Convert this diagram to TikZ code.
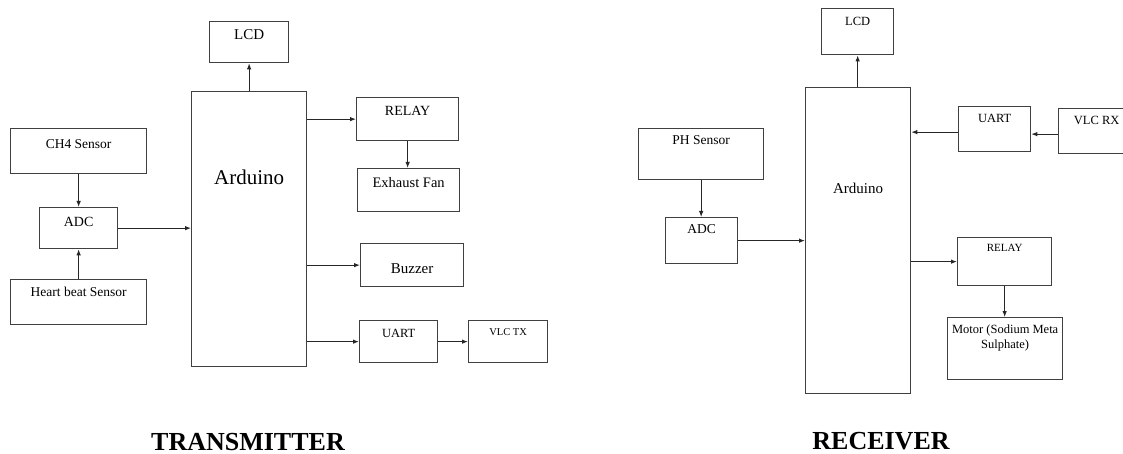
\documentclass[tikz,border=0pt]{standalone}
\usepackage{fontspec}
\setmainfont{Liberation Serif}
\usetikzlibrary{arrows.meta}
\colorlet{boxgray}{black!75}
\colorlet{wiregray}{black!85}

\begin{document}
\begin{tikzpicture}[x=1pt,y=-1pt,
  blk/.style={draw=boxgray, line width=1.3pt, rectangle, inner sep=0pt, anchor=north west},
  wire/.style={draw=wiregray, line width=1pt, -{Latex[length=6pt,width=4.5pt]}},
  fs/.style={font=\fontsize{#1}{1.2\dimexpr#1pt\relax}\selectfont},
  title/.style={font=\fontsize{26}{30}\selectfont\bfseries, anchor=base}]
\useasboundingbox (0,0) rectangle (1123,454);
% transmitter
\node[blk, fs=15, minimum width=79, text height=18, text depth=23] (lcd) at (209,21) {LCD};
\node[blk, fs=21, minimum width=115, text height=93, text depth=182] (ard) at (191,91) {Arduino};
\node[blk, fs=13.5, minimum width=136, text height=20, text depth=25] (ch4) at (10,128) {CH4 Sensor};
\node[blk, fs=14, minimum width=78, text height=19, text depth=22] (adc) at (39,207) {ADC};
\node[blk, fs=13.5, minimum width=136, text height=17, text depth=28] (hb) at (10,279) {Heart beat Sensor};
\node[blk, fs=14, minimum width=102, text height=18, text depth=25] (relay) at (356,97) {RELAY};
\node[blk, fs=14.5, minimum width=102, text height=19, text depth=24] (fan) at (357,168) {Exhaust Fan};
\node[blk, fs=15, minimum width=103, text height=30, text depth=13] (buzz) at (360,243) {Buzzer};
\node[blk, fs=12.5, minimum width=78, text height=17, text depth=25] (uart) at (359,320) {UART};
\node[blk, fs=10.5, minimum width=79, text height=15, text depth=27] (vlctx) at (468,320) {VLC TX};
\draw[wire] (ard.north) -- (ard.north |- lcd.south);
\draw[wire] (ch4.south) -- (adc.north);
\draw[wire] (hb.north) -- (adc.south);
\draw[wire] (adc.east) -- (adc.east -| ard.west);
\draw[wire] (relay.west -| ard.east) -- (relay.west);
\draw[wire] (relay.south) -- (relay.south |- fan.north);
\draw[wire] (buzz.west -| ard.east) -- (buzz.west);
\draw[wire] (uart.west -| ard.east) -- (uart.west);
\draw[wire] (uart.east) -- (vlctx.west);
\node[title] (tx) at (248,450) {TRANSMITTER};
% receiver
\node[blk, fs=12.5, minimum width=72, text height=17, text depth=29] (lcdr) at (821,8) {LCD};
\node[blk, fs=15, minimum width=105, text height=106, text depth=200] (ardr) at (805,87) {Arduino};
\node[blk, fs=12.5, minimum width=72, text height=16, text depth=29] (uartr) at (958,106) {UART};
\node[blk, fs=12.5, minimum width=76, text height=16, text depth=29] (vlcrx) at (1058,108) {VLC RX};
\node[blk, fs=13.5, minimum width=125, text height=16, text depth=35] (ph) at (638,128) {PH Sensor};
\node[blk, fs=13.5, minimum width=72, text height=16, text depth=30] (adcr) at (665,217) {ADC};
\node[blk, fs=11, minimum width=94, text height=14, text depth=34] (relayr) at (957,237) {RELAY};
\node[blk, fs=12.5, minimum width=115, text height=16, text depth=46] (motor) at (947,317)
  {\begin{tabular}[t]{@{}c@{}}Motor (Sodium Meta\\Sulphate)\end{tabular}};
\draw[wire] (lcdr.south |- ardr.north) -- (lcdr.south);
\draw[wire] ([yshift=-3]vlcrx.west) -- ([yshift=-3]vlcrx.west -| uartr.east);
\draw[wire] ([yshift=-3]uartr.west) -- ([yshift=-3]uartr.west -| ardr.east);
\draw[wire] (ph.south) -- (ph.south |- adcr.north);
\draw[wire] (adcr.east) -- (adcr.east -| ardr.west);
\draw[wire] (relayr.west -| ardr.east) -- (relayr.west);
\draw[wire] (relayr.south) -- (relayr.south |- motor.north);
\node[title] (rx) at (881,449) {RECEIVER};
\end{tikzpicture}
\end{document}
